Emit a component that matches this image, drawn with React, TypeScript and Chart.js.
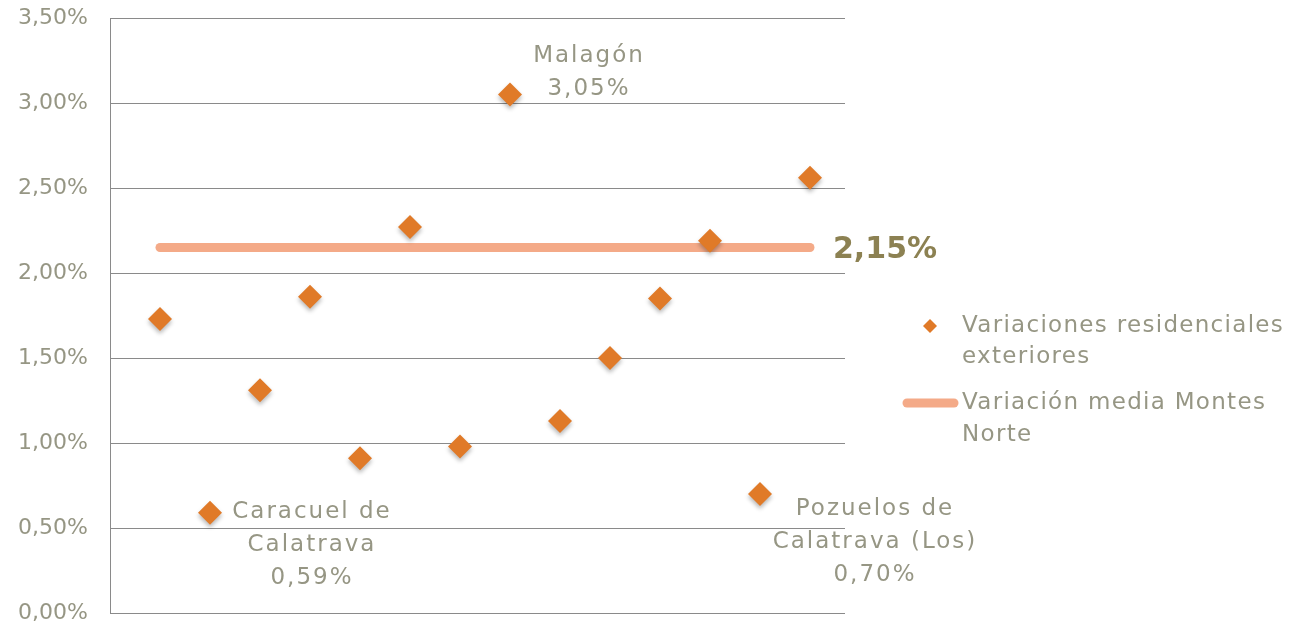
import React, { useEffect, useRef } from "react";
import { Chart, registerables } from "chart.js";

Chart.register(...registerables);

const positions = [1, 2, 3, 4, 5, 6, 7, 8, 9, 10, 11, 12, 13, 14];
const variations = [1.73, 0.59, 1.31, 1.86, 0.91, 2.27, 0.98, 3.05, 1.13, 1.5, 1.85, 2.19, 0.7, 2.56];
const meanValue = 2.15;
const meanSpan = [1, 14];
const yTicks = [0, 0.5, 1, 1.5, 2, 2.5, 3, 3.5];
const labelledIndex = [7, 1, 12];
const labelledNames = [["Malagón"], ["Caracuel de", "Calatrava"], ["Pozuelos de", "Calatrava (Los)"]];
const seriesNames = [["Variaciones residenciales", "exteriores"], ["Variación media Montes", "Norte"]];

const FONT = '"DejaVu Sans", sans-serif';
const TEXT = "#969684";
const ORANGE = "#e07a28";
const SALMON = "#f4aa88";
const OLIVE = "#8c8152";

const fmt = (v: number) => v.toFixed(2).replace(".", ",") + "%";

// label offsets relative to anchor point (dx, dy of first line)
const labelOffsets = [
  { dx: 79, dy: -38 },
  { dx: 102, dy: -1 },
  { dx: 115, dy: 15 },
];

const annotations = {
  id: "annotations",
  beforeDatasetDraw(chart: any, args: any) {
    if (args.index === 0) {
      const ctx = chart.ctx;
      ctx.save();
      ctx.shadowColor = "rgba(0,0,0,0.28)";
      ctx.shadowBlur = 4;
      ctx.shadowOffsetY = 3;
    }
  },
  afterDatasetDraw(chart: any, args: any) {
    if (args.index === 0) chart.ctx.restore();
  },
  afterDraw(chart: any) {
    const ctx = chart.ctx;
    const xs = chart.scales.x;
    const ys = chart.scales.y;
    const lh = 33;
    ctx.save();
    ctx.fillStyle = TEXT;
    ctx.font = `23px ${FONT}`;
    (ctx as any).letterSpacing = "2px";
    ctx.textAlign = "center";
    ctx.textBaseline = "middle";
    labelledIndex.forEach((idx, i) => {
      const px = xs.getPixelForValue(positions[idx]);
      const py = ys.getPixelForValue(variations[idx]);
      const lines = [...labelledNames[i], fmt(variations[idx])];
      lines.forEach((t, j) => {
        ctx.fillText(t, px + labelOffsets[i].dx, py + labelOffsets[i].dy + j * lh);
      });
    });

    // legend
    const lx = 962;
    ctx.textAlign = "left";
    (ctx as any).letterSpacing = "1.3px";
    seriesNames[0].forEach((t, j) => ctx.fillText(t, lx, 326 + j * 31));
    seriesNames[1].forEach((t, j) => ctx.fillText(t, lx, 403 + j * 32));
    (ctx as any).letterSpacing = "0px";

    // mean label
    const mx = xs.getPixelForValue(meanSpan[1]);
    const my = ys.getPixelForValue(meanValue);
    ctx.fillStyle = OLIVE;
    ctx.font = `bold 30px ${FONT}`;
    ctx.fillText(fmt(meanValue), mx + 23, my + 3);

    // diamond marker
    ctx.fillStyle = ORANGE;
    ctx.beginPath();
    ctx.moveTo(930, 319);
    ctx.lineTo(937, 326);
    ctx.lineTo(930, 333);
    ctx.lineTo(923, 326);
    ctx.closePath();
    ctx.fill();
    // line marker
    ctx.strokeStyle = SALMON;
    ctx.lineWidth = 9;
    ctx.lineCap = "round";
    ctx.beginPath();
    ctx.moveTo(907, 403);
    ctx.lineTo(954, 403);
    ctx.stroke();
    ctx.restore();
  },
};

export default function App() {
  const ref = useRef<HTMLCanvasElement | null>(null);
  useEffect(() => {
    document.body.style.margin = "0";
    const chart = new Chart(ref.current as HTMLCanvasElement, {
      type: "scatter",
      data: {
        datasets: [
          {
            type: "scatter",
            label: seriesNames[0].join(" "),
            data: positions.map((x, i) => ({ x, y: variations[i] })),
            pointStyle: "rectRot",
            pointRadius: 12,
            backgroundColor: ORANGE,
            borderWidth: 0,
            order: 1,
          },
          {
            type: "line",
            label: seriesNames[1].join(" "),
            data: meanSpan.map((x) => ({ x, y: meanValue })),
            borderColor: SALMON,
            borderWidth: 9,
            borderCapStyle: "round",
            pointRadius: 0,
            order: 2,
          } as any,
        ],
      },
      options: {
        animation: false,
        responsive: true,
        maintainAspectRatio: false,
        layout: { padding: { top: 18, bottom: 14, left: 0, right: 459 } },
        plugins: { legend: { display: false }, tooltip: { enabled: false } },
        scales: {
          x: {
            type: "linear",
            min: 0,
            max: 14.7,
            display: false,
          },
          y: {
            min: 0,
            max: 3.5,
            afterFit: (s: any) => {
              s.width = 110;
              s.paddingTop = 0;
              s.paddingBottom = 0;
            },
            afterBuildTicks: (s: any) => {
              s.ticks = yTicks.map((v) => ({ value: v }));
            },
            grid: { color: "#8a8a8a", lineWidth: 1, drawTicks: false },
            border: { display: true, color: "#8a8a8a", width: 1 },
            ticks: {
              padding: 22,
              color: TEXT,
              font: { family: FONT, size: 22 },
              callback: (v: any) => fmt(Number(v)),
            },
          },
        },
      },
      plugins: [annotations],
    });
    return () => chart.destroy();
  }, []);
  return (
    <div style={{ position: "fixed", left: 0, top: 0, width: 1304, height: 627, background: "#fff" }}>
      <canvas ref={ref} />
    </div>
  );
}
